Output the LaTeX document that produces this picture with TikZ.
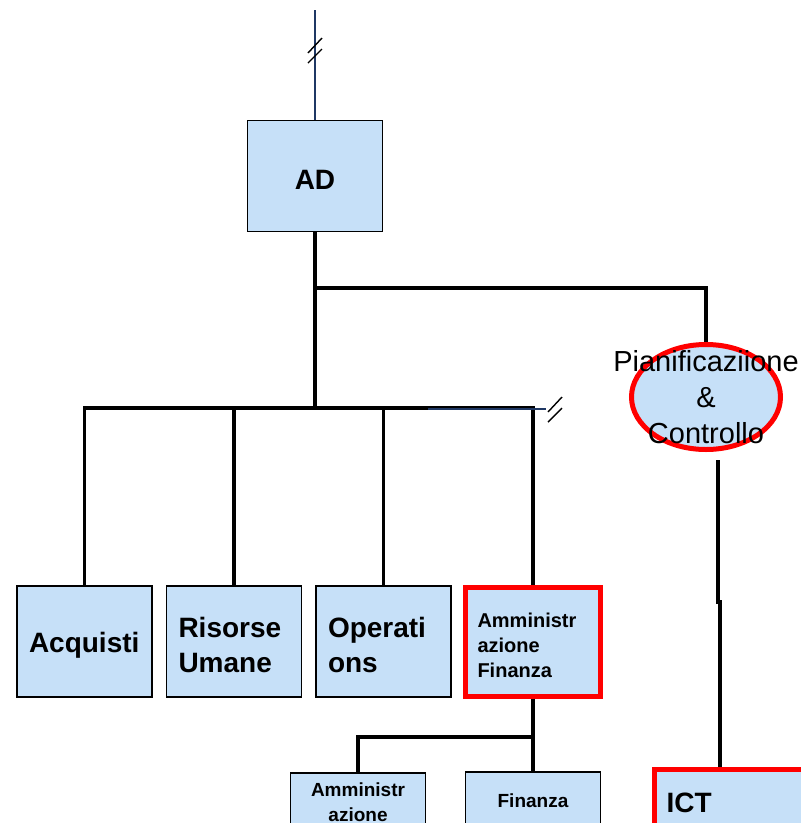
\documentclass[tikz,border=0pt]{standalone}
\usepackage{fontspec}
\setmainfont{Liberation Sans}
\usetikzlibrary{shapes.geometric}
\definecolor{unitblue}{RGB}{198,224,248}
\definecolor{linenavy}{RGB}{31,56,100}
\definecolor{markred}{RGB}{255,0,0}

\begin{document}
\begin{tikzpicture}[x=1pt,y=-1pt,node distance=149.5pt,
  unit node/.style={rectangle,fill=unitblue,draw,line width=1.6pt,minimum width=135pt,
    minimum height=111pt,inner xsep=12pt,text width=111pt,align=left,
    font=\bfseries\fontsize{28}{35}\selectfont},
  low text/.style={execute at end node={\endgraf\vspace*{-7pt}}},
  red node/.style={draw=markred,line width=5pt},
  conn/.style={line width=3.6pt},
  navy line/.style={draw=linenavy,line width=1.5pt},
  cut mark/.style={line width=1.4pt}]

  \path[use as bounding box,clip] (0,0) rectangle (801,823);

  \node[unit node, align=center, text height=26pt, text depth=0pt] (ad) at (315,176) {AD};
  \node[unit node, text height=28pt, text depth=6pt] (acq) at (84.5,641.5) {Acquisti};
  \node[unit node, low text] (ru) [right of=acq] {Risorse\\Umane};
  \node[unit node, low text] (ops) [right of=ru] {Operati\\ons};
  \node[unit node, low text, red node, minimum height=109pt,
    font=\bfseries\fontsize{20}{25}\selectfont] (af) [right of=ops] {Amministr\\azione\\Finanza};

  \node[unit node, align=center, minimum height=58pt, anchor=north,
    font=\bfseries\fontsize{19}{25}\selectfont] (amm) at (358,772) {Amministr\\azione};
  \node[unit node, align=center, minimum height=58pt, anchor=north,
    font=\bfseries\fontsize{19}{25}\selectfont] (fin) at (533,771) {Finanza};

  \node[ellipse, fill=unitblue, draw=markred, line width=5pt, minimum width=149pt,
    minimum height=105pt, inner sep=0pt] (pc) at (706,397) {};
  \node[font=\fontsize{29}{36}\selectfont, align=center] (pct) at (pc.center)
    {Pianificaziione\\\&\\Controllo};

  \node[unit node, red node, anchor=north west, text width=150pt,
    minimum height=66pt] (ict) at (652,767) {ICT};

  % trunk and bus
  \coordinate (top) at (315,10);
  \coordinate (fork) at (315,288);
  \coordinate (hub) at (315,408);
  \coordinate (sub) at (533,737);
  \coordinate (pcl) at (718,460);
  \coordinate (jog) at (718,602);
  \coordinate (jog2) at (720,602);

  \draw[navy line] (top) -- (ad.north);
  \draw[cut mark] (308,53) -- (322,38) (308,63) -- (322,49);

  \draw[conn] (ad.south) -- (hub);
  \draw[conn] (fork) -| (pc.north);
  \draw[conn] (acq.north) -- (acq.north |- hub) -- (af.north |- hub) -- (af.north);
  \path[conn] (ru.north) edge (ru.north |- hub)
              (ops.north) edge (ops.north |- hub);

  \draw[navy line] (428,409) -- (546,409);
  \draw[cut mark] (548,422) -- (562,408) (548,412) -- (562,397);

  \draw[conn] (af.south) -- (fin.north);
  \draw[conn] (sub) -| (amm.north);

  \draw[conn] (pcl) -- (jog) -- (jog2) -- (jog2 |- ict.north);
\end{tikzpicture}
\end{document}
